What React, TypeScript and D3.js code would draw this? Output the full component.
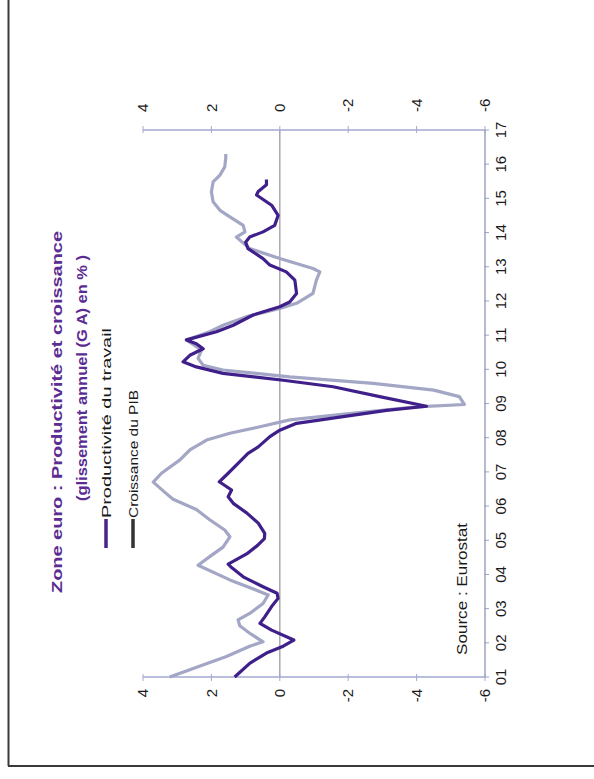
import React from "react";
import * as d3 from "d3";

// Year-on-year change (%), euro area. Each point: [year fraction, value].
const productivite: [number, number][] = [
  [2001.0, 1.32], [2001.4, 0.88], [2001.7, 0.39], [2001.9, -0.1], [2002.08, -0.41],
  [2002.37, 0.24], [2002.57, 0.58], [2002.76, 0.44], [2003.06, 0.24], [2003.3, 0.05],
  [2003.45, 0.08], [2003.64, 0.49], [2003.93, 1.07], [2004.2, 1.41], [2004.3, 1.51],
  [2004.6, 0.97], [2004.85, 0.65], [2005.05, 0.45], [2005.2, 0.44], [2005.5, 0.63],
  [2005.8, 0.97], [2006.08, 1.36], [2006.27, 1.51], [2006.47, 1.41], [2006.71, 1.77],
  [2006.96, 1.51], [2007.25, 1.22], [2007.54, 0.93], [2007.73, 0.63], [2008.03, 0.29],
  [2008.22, 0.0], [2008.42, -0.49], [2008.6, -1.75], [2008.8, -3.12], [2008.92, -4.29],
  [2009.2, -2.92], [2009.49, -1.56], [2009.68, -0.1], [2009.88, 1.66], [2010.07, 2.44],
  [2010.22, 2.83], [2010.41, 2.63], [2010.6, 2.24], [2010.75, 2.44], [2010.86, 2.73],
  [2011.1, 1.85], [2011.29, 1.36], [2011.59, 0.78], [2011.83, 0.0], [2011.97, -0.29],
  [2012.22, -0.49], [2012.61, -0.44], [2012.85, -0.19], [2013.05, 0.29], [2013.24, 0.49],
  [2013.53, 0.93], [2013.72, 1.0], [2013.87, 0.88], [2014.02, 0.49], [2014.21, 0.15],
  [2014.5, 0.05], [2014.8, 0.24], [2015.1, 0.68], [2015.2, 0.63], [2015.4, 0.39],
  [2015.55, 0.39],
];

const croissancePib: [number, number][] = [
  [2001.0, 3.22], [2001.3, 2.39], [2001.6, 1.56], [2001.9, 0.88], [2002.03, 0.49],
  [2002.28, 0.88], [2002.5, 1.17], [2002.67, 1.22], [2002.86, 0.88], [2003.15, 0.49],
  [2003.4, 0.34], [2003.54, 0.68], [2003.84, 1.46], [2004.27, 2.39], [2004.52, 2.05],
  [2004.8, 1.66], [2005.1, 1.46], [2005.3, 1.61], [2005.6, 2.05], [2005.9, 2.44],
  [2006.2, 3.12], [2006.4, 3.36], [2006.7, 3.7], [2006.96, 3.46], [2007.35, 2.92],
  [2007.64, 2.63], [2007.93, 2.14], [2008.13, 1.46], [2008.32, 0.58], [2008.52, -0.29],
  [2008.7, -1.95], [2008.9, -4.0], [2008.97, -5.4], [2009.2, -5.25], [2009.39, -4.5],
  [2009.59, -2.73], [2009.78, -0.29], [2009.98, 1.66], [2010.12, 2.24], [2010.32, 2.39],
  [2010.56, 2.29], [2010.7, 2.49], [2010.86, 2.73], [2011.1, 2.05], [2011.29, 1.66],
  [2011.54, 0.97], [2011.78, 0.0], [2011.93, -0.49], [2012.22, -0.97], [2012.61, -1.07],
  [2012.85, -1.17], [2012.95, -0.97], [2013.24, 0.0], [2013.53, 0.88], [2013.78, 1.17],
  [2013.87, 1.27], [2014.02, 1.02], [2014.21, 1.07], [2014.46, 1.46], [2014.65, 1.75],
  [2014.9, 1.95], [2015.19, 2.0], [2015.48, 1.95], [2015.68, 1.75], [2015.92, 1.61],
  [2016.17, 1.58], [2016.3, 1.58],
];

const yearLabels = ["01", "02", "03", "04", "05", "06", "07", "08", "09", "10", "11", "12", "13", "14", "15", "16", "17"];
const valueTicks = [4, 2, 0, -2, -4, -6];

const titleLines = ["Zone euro : Productivité et croissance", "(glissement annuel (G A) en % )"];
const legendLabels = ["Productivité du travail", "Croissance du PIB"];

const W = 594;
const H = 779;
const FONT = "'Liberation Sans', Arial, sans-serif";

export default function App() {
  // The chart is laid out in a landscape frame and turned a quarter turn counter-clockwise.
  const x = d3.scaleLinear().domain([2001, 2017]).range([102, 649]);
  const y = d3.scaleLinear().domain([-6, 4]).range([485, 143]);

  const line = d3
    .line<[number, number]>()
    .x((d) => x(d[0]))
    .y((d) => y(d[1]))
    .curve(d3.curveLinear);

  const axisColor = "#a3a8d2";
  const [x0, x1] = x.range();
  const yTop = y(4);
  const yBot = y(-6);

  const legendStyle = [
    { swatch: "#4a2587", width: 190 },
    { swatch: "#333333", width: 128 },
  ];

  return (
    <svg
      width={W}
      height={H}
      style={{ position: "absolute", left: 0, top: 0, background: "#fff" }}
      fontFamily={FONT}
    >
      {/* frame */}
      <line x1={8.5} y1={0} x2={8.5} y2={766} stroke="#3a3a3a" strokeWidth={2} />
      <line x1={8} y1={766} x2={W} y2={766} stroke="#3a3a3a" strokeWidth={2} />

      <g transform={`translate(0,${H}) rotate(-90)`}>
        {/* zero reference */}
        <line x1={x0} x2={x1} y1={y(0)} y2={y(0)} stroke="#a8a8b0" strokeWidth={1.5} />

        {/* value axes at both ends of the time span */}
        {[x0, x1].map((xa, i) => (
          <g key={i}>
            <line x1={xa} x2={xa} y1={yTop} y2={yBot} stroke={axisColor} strokeWidth={1.5} />
            {valueTicks.map((v) => (
              <line
                key={v}
                x1={i === 0 ? xa - 4 : xa - 3}
                x2={i === 0 ? xa + 3 : xa + 4}
                y1={y(v)}
                y2={y(v)}
                stroke={axisColor}
                strokeWidth={1}
              />
            ))}
            {valueTicks.map((v) => (
              <text
                key={`t${v}`}
                x={i === 0 ? xa - 12 : xa + 18}
                y={y(v)}
                dy="0.35em"
                fontSize={15}
                textAnchor={i === 0 ? "end" : "start"}
                fill="#1a1a1a"
              >
                {v}
              </text>
            ))}
          </g>
        ))}

        {/* time axis */}
        <line x1={x0} x2={x1} y1={yBot} y2={yBot} stroke="#9da3c0" strokeWidth={1.5} />
        {yearLabels.map((lab, i) => (
          <g key={lab}>
            <line x1={x(2001 + i)} x2={x(2001 + i)} y1={yBot - 1} y2={yBot + 4} stroke="#9da3c0" strokeWidth={1} />
            <text x={x(2001 + i)} y={yBot + 21} fontSize={15} textAnchor="middle" fill="#1a1a1a">
              {lab}
            </text>
          </g>
        ))}

        {/* series */}
        <path d={line(croissancePib) ?? ""} fill="none" stroke="#a3a6c4" strokeWidth={3.2} strokeLinejoin="round" />
        <path d={line(productivite) ?? ""} fill="none" stroke="#3f1f8a" strokeWidth={3.2} strokeLinejoin="round" />

        {/* title */}
        <text x={367} y={62} fontSize={15} fontWeight="bold" fill="#5b2c92" textAnchor="middle" textLength={362} lengthAdjust="spacingAndGlyphs">
          {titleLines[0]}
        </text>
        <text x={401} y={87} fontSize={15} fontWeight="bold" fill="#5b2c92" textAnchor="middle" textLength={246} lengthAdjust="spacingAndGlyphs">
          {titleLines[1]}
        </text>

        {/* legend */}
        {legendLabels.map((label, i) => {
          const cy = 106 + i * 27;
          const st = legendStyle[i];
          return (
            <g key={label}>
              <line x1={231} x2={260} y1={cy} y2={cy} stroke={st.swatch} strokeWidth={3.5} />
              <text x={261} y={cy + 4.5} fontSize={13} fill="#1a1a1a" textLength={st.width} lengthAdjust="spacingAndGlyphs">
                {label}
              </text>
            </g>
          );
        })}

        {/* source */}
        <text x={124} y={467} fontSize={14} fill="#1a1a1a" textLength={132} lengthAdjust="spacingAndGlyphs">
          Source : Eurostat
        </text>
      </g>
    </svg>
  );
}
